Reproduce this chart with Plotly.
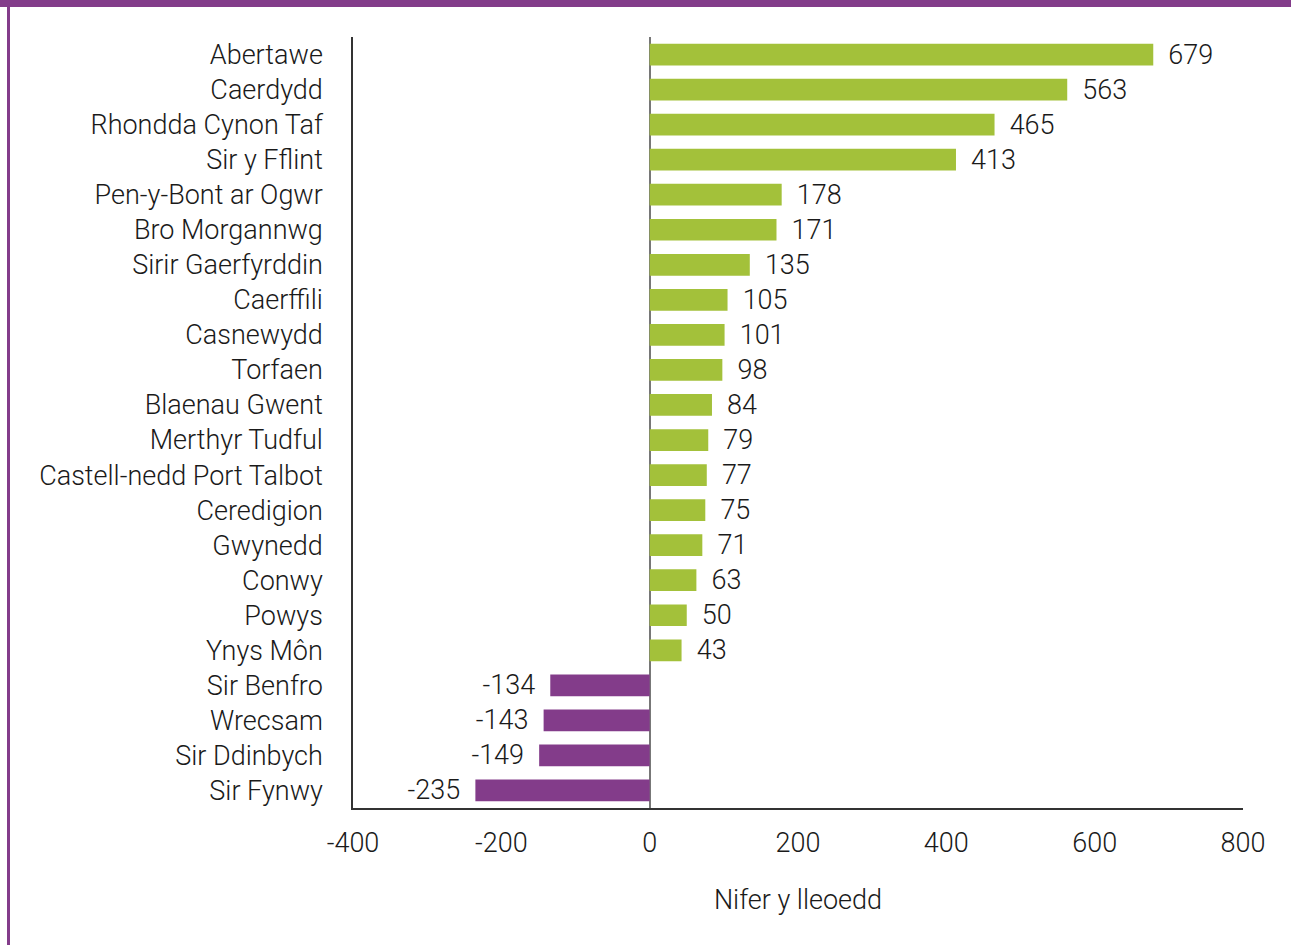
import plotly.graph_objects as go

categories = ["Abertawe", "Caerdydd", "Rhondda Cynon Taf", "Sir y Fflint", "Pen-y-Bont ar Ogwr",
              "Bro Morgannwg", "Sirir Gaerfyrddin", "Caerffili", "Casnewydd", "Torfaen",
              "Blaenau Gwent", "Merthyr Tudful", "Castell-nedd Port Talbot", "Ceredigion",
              "Gwynedd", "Conwy", "Powys", "Ynys Môn", "Sir Benfro", "Wrecsam",
              "Sir Ddinbych", "Sir Fynwy"]
values = [679, 563, 465, 413, 178, 171, 135, 105, 101, 98, 84, 79, 77, 75, 71, 63, 50, 43,
          -134, -143, -149, -235]
x_ticks = [-400, -200, 0, 200, 400, 600, 800]

GREEN = "#A3C13A"
PURPLE = "#833C8A"
colors = [GREEN if v >= 0 else PURPLE for v in values]

FONT = "Roboto"
FS = 27
NB = "\u00a0\u2009"
labels = [(NB + str(v)) if v >= 0 else (str(v) + NB) for v in values]

fig = go.Figure(go.Bar(
    x=values, y=categories, orientation="h",
    marker=dict(color=colors, line=dict(width=0)),
    width=0.62,
    text=labels, textposition="outside", constraintext="none",
    textfont=dict(family=FONT, size=FS, color="#1a1a1a", weight=300),
    cliponaxis=False,
))

fig.update_layout(
    width=1291, height=945,
    margin=dict(l=353, r=48, t=37, b=137),
    paper_bgcolor="white", plot_bgcolor="white",
    font=dict(family=FONT, size=FS, color="#1a1a1a", weight=300),
    showlegend=False,
    xaxis=dict(range=[-400, 800], tickvals=x_ticks, ticktext=[str(t) for t in x_ticks],
               showgrid=False, zeroline=True, zerolinecolor="#777777", zerolinewidth=1.5,
               showline=True, linecolor="#333333", linewidth=1.5,
               ticks="", ticklabelstandoff=10,
               tickfont=dict(family=FONT, size=FS, color="#1a1a1a", weight=300),
               title=dict(text="Nifer y lleoedd", standoff=32,
                          font=dict(family=FONT, size=FS, color="#1a1a1a", weight=300))),
    yaxis=dict(categoryorder="array", categoryarray=categories, autorange=False,
               range=[21.5, -0.5], showgrid=False, showline=True, linecolor="#333333",
               linewidth=1.5, ticks="", ticklabelstandoff=23,
               tickfont=dict(family=FONT, size=FS, color="#1a1a1a", weight=300)),
    shapes=[
        dict(type="rect", xref="paper", yref="paper", x0=-1, x1=2,
             y0=(808 - 7) / 771, y1=(808 + 5) / 771, fillcolor=PURPLE, line=dict(width=0),
             layer="above"),
        dict(type="rect", xref="paper", yref="paper", x0=(7 - 353) / 890, x1=(10 - 353) / 890,
             y0=-1, y1=2, fillcolor=PURPLE, line=dict(width=0), layer="above"),
    ],
)

fig.write_html("out.html", config={"displayModeBar": False},
               post_script="document.body.style.margin='0';document.body.style.overflow='hidden';")
